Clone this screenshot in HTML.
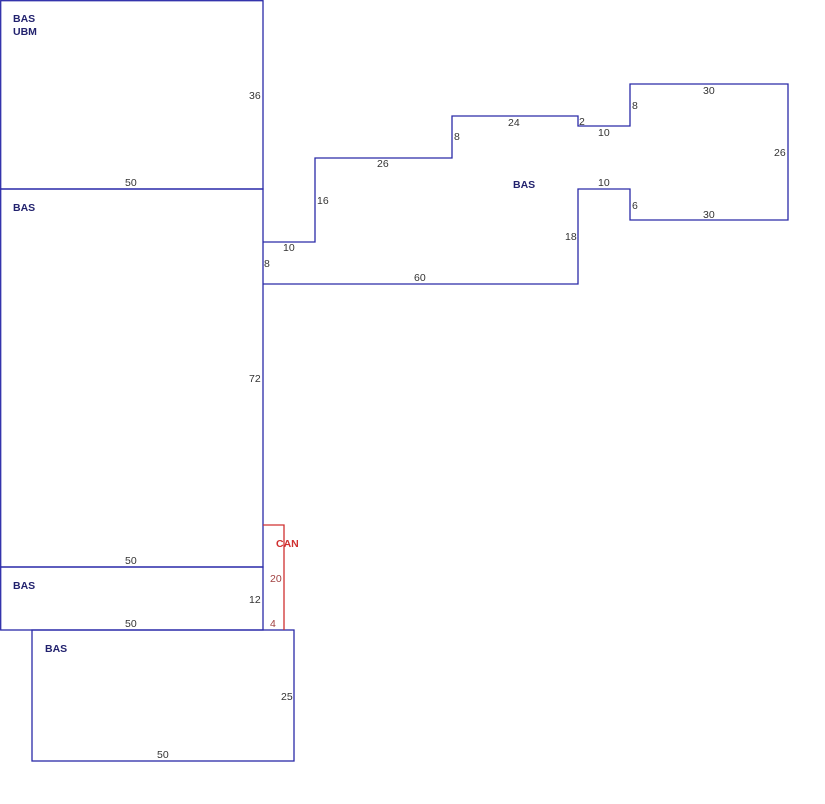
<!DOCTYPE html>
<html><head><meta charset="utf-8"><style>
body{margin:0;background:#fff;}
svg text{font-family:"Liberation Sans",Arial,sans-serif;font-size:10.5px;fill:#333;}
.b{font-weight:bold;fill:#22226e;}
</style></head><body>
<svg width="825" height="799" viewBox="0 0 825 799" xmlns="http://www.w3.org/2000/svg">
<g fill="none" stroke="#2a2aa8" stroke-width="1.3">
<rect x="0.7" y="0.7" width="262.3" height="188.3"/>
<rect x="0.7" y="189" width="262.3" height="378"/>
<rect x="0.7" y="567" width="262.3" height="63"/>
<rect x="32" y="630" width="262" height="131"/>
<polyline points="263,242 315,242 315,158 452,158 452,116 578,116 578,126 630,126 630,84 788,84 788,220 630,220 630,189 578,189 578,284 263,284"/>
</g>
<polyline points="263,525 284,525 284,630" fill="none" stroke="#d03030" stroke-width="1.3"/>
<text class="b" x="13" y="22">BAS</text>
<text class="b" x="13" y="35">UBM</text>
<text class="b" x="13" y="211">BAS</text>
<text class="b" x="13" y="589">BAS</text>
<text class="b" x="45" y="652">BAS</text>
<text class="b" x="513" y="188">BAS</text>
<text class="b" x="276" y="547" style="fill:#d03030">CAN</text>
<text x="249" y="99">36</text>
<text x="125" y="186">50</text>
<text x="283" y="251">10</text>
<text x="264" y="267">8</text>
<text x="317" y="204">16</text>
<text x="377" y="167">26</text>
<text x="454" y="140">8</text>
<text x="508" y="126">24</text>
<text x="579" y="125">2</text>
<text x="598" y="136">10</text>
<text x="632" y="109">8</text>
<text x="703" y="94">30</text>
<text x="774" y="156">26</text>
<text x="598" y="186">10</text>
<text x="632" y="209">6</text>
<text x="703" y="218">30</text>
<text x="565" y="240">18</text>
<text x="414" y="281">60</text>
<text x="249" y="382">72</text>
<text x="125" y="564">50</text>
<text x="270" y="582" style="fill:#a04040">20</text>
<text x="249" y="603">12</text>
<text x="125" y="627">50</text>
<text x="270" y="627" style="fill:#a04040">4</text>
<text x="281" y="700">25</text>
<text x="157" y="758">50</text>
</svg>
</body></html>
